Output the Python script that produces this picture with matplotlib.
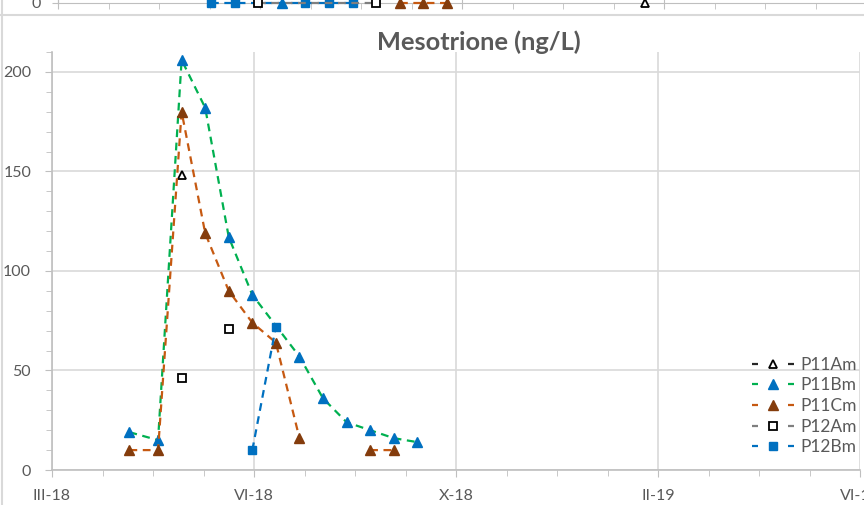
import matplotlib
matplotlib.use('Agg')
import matplotlib.pyplot as plt
import matplotlib.dates as mdates
from matplotlib.ticker import MultipleLocator, FuncFormatter
from matplotlib.lines import Line2D
import numpy as np
import pandas as pd

plt.rcParams['font.family'] = ['Lato', 'DejaVu Sans']

# Mesotrione (ng/L) per sampling point
p11am_dates = ['2018-05-17']
p11am_vals = [148]

p11bm_dates = ['2018-04-16', '2018-05-03', '2018-05-17', '2018-05-31', '2018-06-14', '2018-06-28',
               '2018-07-26', '2018-08-09', '2018-08-23', '2018-09-06', '2018-09-20', '2018-10-04']
p11bm_vals = [19, 15, 206, 182, 117, 88, 57, 36, 24, 20, 16, 14]

p11cm_dates = ['2018-04-16', '2018-05-03', '2018-05-17', '2018-05-31', '2018-06-14', '2018-06-28',
               '2018-07-12', '2018-07-26', '2018-08-09', '2018-08-23', '2018-09-06', '2018-09-20']
p11cm_vals = [10, 10, 180, 119, 90, 74, 64, 16, np.nan, np.nan, 10, 10]

p12am_dates = ['2018-05-17', '2018-05-31', '2018-06-14']
p12am_vals = [46, np.nan, 71]

p12bm_dates = ['2018-06-28', '2018-07-12']
p12bm_vals = [10, 72]

# bottom edge of the neighbouring panel above (all at 0)
up_p11am_dates = ['2019-02-13']
up_p11bm_dates = ['2018-07-12']
up_p11cm_dates = ['2018-09-20', '2018-10-04', '2018-10-18']
up_p12am_dates = ['2018-06-28', '2018-09-06']
up_p12bm_dates = ['2018-05-31', '2018-06-14', '2018-07-26', '2018-08-09', '2018-08-23']

AXIS_START = '2018-03-01'
AXIS_END = '2019-06-24'
ROMAN = ['I', 'II', 'III', 'IV', 'V', 'VI', 'VII', 'VIII', 'IX', 'X', 'XI', 'XII']

TXT = '#595959'
GRID = '#D9D9D9'
SPINE = '#BFBFBF'

# series styles: line colour, marker, marker face, marker edge, marker size
STYLES = {
    'P11Am': dict(color='#262626', marker='^', mfc='white', mec='black', ms=5.5, mew=1.3),
    'P11Bm': dict(color='#00B050', marker='^', mfc='#0070C0', mec='#0070C0', ms=6.5, mew=1),
    'P11Cm': dict(color='#C65911', marker='^', mfc='#843C0C', mec='#843C0C', ms=6.5, mew=1),
    'P12Am': dict(color='#7F7F7F', marker='s', mfc='white', mec='black', ms=5.5, mew=1.3),
    'P12Bm': dict(color='#0070C0', marker='s', mfc='#0070C0', mec='#0070C0', ms=6, mew=1),
}
LW = 1.6

W, H = 864, 505
fig = plt.figure(figsize=(W / 100, H / 100), dpi=100)
fig.patch.set_facecolor('white')


def px_box(x0, y0, x1, y1):
    # pixel box (from top-left) -> figure fraction rect
    return [x0 / W, 1 - y1 / H, (x1 - x0) / W, (y1 - y0) / H]


def month_label(x, pos):
    d = mdates.num2date(x)
    return f"{ROMAN[d.month - 1]}-{d.strftime('%y')}"


x0 = mdates.date2num(pd.Timestamp(AXIS_START))
x1 = mdates.date2num(pd.Timestamp(AXIS_END))


def style_dates(a):
    a.set_xlim(x0, x1)
    a.xaxis.set_major_locator(MultipleLocator(120, offset=x0 % 120))
    a.xaxis.set_minor_locator(MultipleLocator(30, offset=x0 % 30))
    a.xaxis.set_major_formatter(FuncFormatter(month_label))


def draw(a, name, dates, vals, **kw):
    st = STYLES[name]
    return a.plot(pd.to_datetime(dates), vals, ls=(0, (3.5, 2.5)), lw=LW, color=st['color'],
                  marker=st['marker'], markerfacecolor=st['mfc'], markeredgecolor=st['mec'],
                  markersize=st['ms'], markeredgewidth=st['mew'], label=name, **kw)[0]


# ---------- strip of the panel above ----------
axt = fig.add_axes(px_box(58, -30, 866, 3))
style_dates(axt)
axt.set_ylim(0, 10)
for name, dates in [('P12Bm', up_p12bm_dates), ('P12Am', up_p12am_dates), ('P11Bm', up_p11bm_dates),
                    ('P11Cm', up_p11cm_dates), ('P11Am', up_p11am_dates)]:
    draw(axt, name, dates, [0] * len(dates), clip_on=False, zorder=5)
for s in ['top', 'right']:
    axt.spines[s].set_visible(False)
for s in ['left', 'bottom']:
    axt.spines[s].set_color(SPINE)
axt.set_yticks([0])
axt.tick_params(axis='y', colors=SPINE, labelcolor=TXT, labelsize=11.5, length=4, pad=8)
axt.tick_params(axis='x', which='major', direction='inout', length=8, colors=SPINE, labelbottom=False)
axt.tick_params(axis='x', which='minor', direction='out', length=4, colors=SPINE)

# ---------- main panel ----------
ax = fig.add_axes(px_box(52, 52, 860, 470))
style_dates(ax)
ax.set_ylim(0, 210)
ax.yaxis.set_major_locator(MultipleLocator(50))
ax.yaxis.set_minor_locator(MultipleLocator(10))
ax.grid(True, which='major', color=GRID, lw=1.2)
ax.set_axisbelow(True)
for s in ['top', 'right']:
    ax.spines[s].set_visible(False)
for s in ['left', 'bottom']:
    ax.spines[s].set_color(SPINE)
    ax.spines[s].set_linewidth(1.2)
ax.tick_params(axis='both', which='both', colors=SPINE, labelcolor=TXT, labelsize=11.5)
ax.tick_params(axis='x', which='major', length=5, pad=9)
ax.tick_params(axis='x', which='minor', length=4)
ax.tick_params(axis='y', which='major', length=5, pad=10)
ax.tick_params(axis='y', which='minor', length=4)

lines = [
    draw(ax, 'P11Am', p11am_dates, p11am_vals),
    draw(ax, 'P11Bm', p11bm_dates, p11bm_vals),
    draw(ax, 'P11Cm', p11cm_dates, p11cm_vals),
    draw(ax, 'P12Am', p12am_dates, p12am_vals),
    draw(ax, 'P12Bm', p12bm_dates, p12bm_vals),
]

leg = ax.legend(handles=lines, loc='center left', bbox_to_anchor=(747 / W, 1 - 406 / H),
                bbox_transform=fig.transFigure, frameon=False, fontsize=12.5,
                handlelength=2.4, handletextpad=0.35, labelspacing=0.27, labelcolor=TXT,
                borderaxespad=0, borderpad=0.3)
# legend key: one short dash either side of the marker
on, gap = 6 * 0.72 / LW, 30 * 0.72 / LW
for hl in leg.get_lines():
    hl.set_linestyle((0, (on, gap, on, 100)))

fig.text(479 / W, 1 - 42 / H, 'Mesotrione (ng/L)', ha='center', va='center',
         fontsize=18.3, fontweight='bold', color=TXT)

# chart area borders
fig.add_artist(Line2D([0, 1], [1 - 14.5 / H] * 2, color=GRID, lw=1.5, transform=fig.transFigure))
fig.add_artist(Line2D([1.5 / W] * 2, [0, 1], color=GRID, lw=1.5, transform=fig.transFigure))

plt.savefig('out.png', dpi=100, facecolor='white')
plt.close()
